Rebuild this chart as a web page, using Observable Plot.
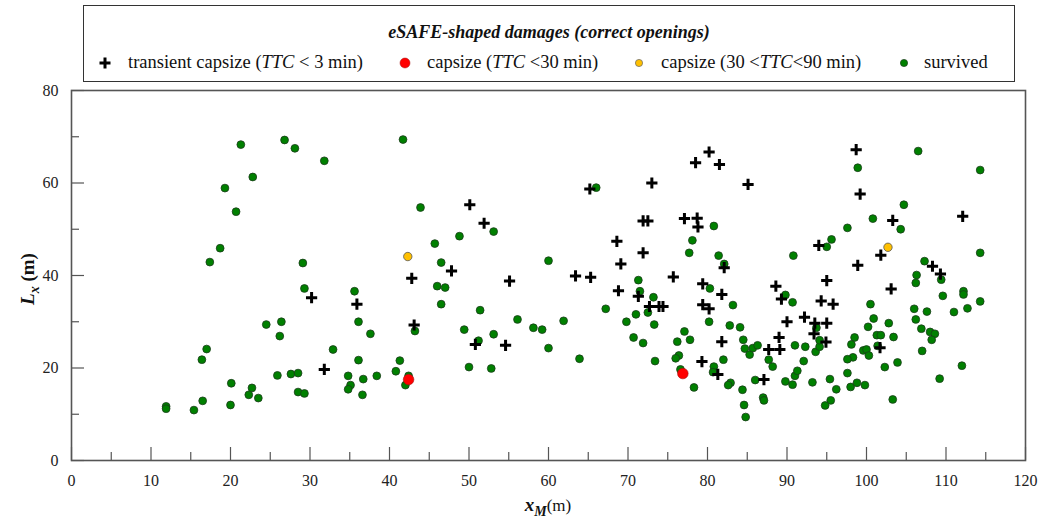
<!DOCTYPE html>
<html>
<head>
<meta charset="utf-8">
<script src="https://cdn.jsdelivr.net/npm/d3@7"></script>
<script src="https://cdn.jsdelivr.net/npm/@observablehq/plot@0.6"></script>
<style>
  body { margin: 0; background: white; }
  #wrap { position: relative; width: 1041px; height: 517px; font-family: "Liberation Serif", "Times New Roman", serif; color: #111; }
  #legend { position: relative; width: 1041px; height: 84px; }
  #legend .box { position: absolute; left: 83px; top: 5px; width: 932px; height: 77px; border: 1.5px solid #333; box-sizing: border-box; }
  #legend .title { position: absolute; left: 83px; width: 932px; top: 22px; text-align: center; font-weight: bold; font-style: italic; font-size: 18px; }
  #legend .item { position: absolute; top: 52px; font-size: 18.5px; white-space: nowrap; }
  #legend svg.mk { position: absolute; top: 56px; }
  #chart svg { overflow: visible; display: block; }
</style>
</head>
<body>
<div id="wrap">
  <div id="legend"></div>
  <div id="chart"></div>
</div>
<script>
// ---- data ----
const xTicks = [0, 10, 20, 30, 40, 50, 60, 70, 80, 90, 100, 110, 120];
const xMinorTicks = [5, 15, 25, 35, 45, 55, 65, 75, 85, 95, 105, 115];
const yTicks = [0, 20, 40, 60, 80];
const yMinorTicks = [10, 30, 50, 70];

const seriesNames = ["transient capsize", "capsize (TTC <30 min)", "capsize (30 <TTC<90 min)", "survived"];

const transientX = [30.2, 35.9, 31.8, 42.8, 43.1, 47.8, 50.1, 51.9, 50.8, 54.6, 55.1, 63.4, 65.3, 65.2, 68.6, 69.1, 68.8, 71.3, 71.9, 71.9, 72.5, 73.0, 72.7, 73.9, 74.4, 75.7, 77.1, 78.7, 78.8, 78.5, 80.2, 81.5, 85.1, 79.4, 81.8, 82.1, 79.4, 80.2, 81.8, 79.3, 81.3, 87.7, 89.1, 89.0, 90.0, 88.6, 89.3, 87.1, 93.5, 95.0, 93.4, 94.9, 92.2, 94.3, 95.8, 95.0, 94.0, 98.9, 98.7, 99.2, 101.8, 103.3, 103.1, 101.7, 108.3, 109.3, 112.1];
const transientY = [35.2, 33.8, 19.7, 39.4, 29.3, 41.0, 55.3, 51.3, 25.1, 24.9, 38.8, 39.9, 39.6, 58.7, 47.4, 42.5, 36.7, 35.5, 44.9, 51.8, 51.8, 60.0, 33.3, 33.3, 33.3, 39.7, 52.3, 52.4, 50.5, 64.4, 66.7, 64.0, 59.7, 38.2, 35.9, 41.7, 33.7, 32.8, 25.7, 21.4, 18.6, 24.0, 24.0, 26.6, 30.0, 37.7, 34.9, 17.5, 29.7, 29.7, 27.4, 25.6, 31.0, 34.5, 33.8, 38.9, 46.5, 42.2, 67.2, 57.6, 44.4, 51.9, 37.1, 24.4, 42.0, 40.3, 52.8];

const capsize30X = [42.4, 76.9];
const capsize30Y = [17.5, 18.8];

const capsize90X = [42.3, 102.7];
const capsize90Y = [44.1, 46.1];

const survivedX = [21.3, 26.8, 28.1, 22.8, 19.3, 20.7, 18.7, 17.4, 29.1, 29.3, 24.5, 26.4, 26.2, 17.0, 16.4, 20.1, 16.5, 11.9, 11.9, 15.4, 20.0, 22.3, 22.7, 23.5, 25.9, 27.6, 28.5, 28.5, 29.3,
  41.7, 31.8, 43.9, 53.1, 48.8, 45.7, 46.5, 60.0, 35.6, 36.1, 37.6, 32.9, 36.1, 34.8, 36.7, 38.4, 35.1, 34.8, 36.6, 41.3, 40.8, 42.4, 42.0, 46.0, 47.0, 46.5, 43.2, 51.4, 49.4, 56.1, 58.1, 59.2, 53.1, 51.2, 60.0, 50.0, 52.8,
  66.0, 80.8, 78.1, 77.7, 81.4, 82.1, 71.3, 80.3, 71.5, 73.2, 67.2, 71.0, 72.5, 69.8, 73.3, 61.9, 63.9, 70.7, 71.9, 73.4, 80.2, 83.2, 82.8, 84.1, 77.1, 76.2, 77.8, 76.4, 76.0, 82.0, 76.6, 80.8, 80.7, 78.3, 82.9, 82.6, 84.4, 84.6, 84.8, 84.5, 84.7, 85.3, 85.7, 86.3, 87.7, 88.2, 89.8, 86.0, 87.0, 87.1, 89.8,
  98.9, 106.5, 114.3, 104.7, 100.8, 104.3, 97.6, 95.6, 95.0, 90.8, 114.3, 107.3, 106.3, 106.2, 109.4, 109.6, 112.2, 112.2, 114.3, 112.7, 111.0, 106.0, 107.6, 106.2, 106.9, 108.0, 108.6, 108.2, 107.0, 112.0, 109.2,
  100.5, 100.9, 102.8, 100.2, 101.3, 101.8, 103.4, 101.4, 98.5, 98.1, 99.6, 100.0, 100.3, 98.3, 97.6, 103.9, 102.3, 97.6, 95.4, 96.2, 98.0, 98.8, 99.8, 95.5, 94.8, 103.3, 93.2, 90.7, 91.0, 91.3, 92.1, 91.0, 92.3, 93.6, 94.1, 94.1, 93.7, 90.7];
const survivedY = [68.3, 69.3, 67.5, 61.3, 58.9, 53.8, 45.9, 42.9, 42.7, 37.2, 29.4, 30.0, 26.9, 24.1, 21.8, 16.7, 12.9, 11.7, 11.2, 10.9, 12.0, 14.2, 15.7, 13.5, 18.4, 18.7, 18.9, 14.8, 14.5,
  69.4, 64.8, 54.7, 49.5, 48.5, 46.9, 42.8, 43.2, 36.6, 30.0, 27.4, 24.0, 21.7, 18.3, 17.6, 18.3, 16.3, 15.4, 14.2, 21.6, 19.3, 18.3, 16.3, 37.7, 37.4, 33.8, 28.0, 32.5, 28.3, 30.5, 28.7, 28.3, 27.3, 25.9, 24.3, 20.2, 19.9,
  59.0, 50.7, 47.6, 44.9, 44.3, 42.5, 39.0, 37.2, 36.6, 35.3, 32.8, 31.6, 32.0, 30.0, 29.4, 30.2, 22.0, 26.6, 25.4, 21.5, 30.0, 33.6, 29.2, 28.8, 27.9, 25.7, 26.1, 22.7, 22.1, 21.8, 19.7, 20.3, 19.1, 15.8, 16.8, 16.3, 15.3, 12.0, 9.4, 26.1, 24.2, 22.9, 24.3, 24.9, 21.8, 20.3, 35.8, 17.4, 13.6, 13.0, 17.1,
  63.3, 66.9, 62.8, 55.3, 52.3, 50.0, 50.3, 47.8, 46.2, 44.3, 44.9, 43.1, 40.1, 38.4, 39.1, 35.6, 36.6, 35.9, 34.4, 32.9, 32.1, 32.8, 32.2, 30.5, 28.5, 27.8, 27.4, 26.1, 23.7, 20.5, 17.7,
  33.8, 30.7, 29.7, 28.9, 27.1, 27.1, 26.7, 24.8, 26.6, 25.1, 23.8, 24.0, 22.7, 22.3, 21.9, 21.2, 20.2, 18.9, 17.6, 15.4, 15.9, 16.8, 16.3, 13.0, 11.9, 13.2, 16.9, 16.4, 18.3, 19.4, 21.5, 24.9, 24.6, 23.5, 24.6, 26.0, 28.7, 34.2];

const colors = { transient: "#000000", capsize30: "#ff0000", capsize90: "#ffc000", survived: "#008000" };

// ---- tables built from the arrays ----
const toRows = (xs, ys) => xs.map((x, i) => ({ x, y: ys[i] }));
const transient = toRows(transientX, transientY);
const capsize30 = toRows(capsize30X, capsize30Y);
const capsize90 = toRows(capsize90X, capsize90Y);
const survived = toRows(survivedX, survivedY);

// ---- legend (HTML above the SVG) ----
const legend = document.getElementById("legend");
legend.innerHTML = `
  <div class="box"></div>
  <div class="title">eSAFE-shaped damages (correct openings)</div>
  <svg class="mk" style="left:98px" width="14" height="14"><path d="M7,1.5V12.5M1.5,7H12.5" stroke="${colors.transient}" stroke-width="3"/></svg>
  <div class="item" style="left:128px">transient capsize (<i>TTC</i> &lt; 3 min)</div>
  <svg class="mk" style="left:398px" width="14" height="14"><circle cx="7" cy="7" r="5" fill="${colors.capsize30}" stroke="#a01010" stroke-width="0.5"/></svg>
  <div class="item" style="left:427px">capsize (<i>TTC</i> &lt;30 min)</div>
  <svg class="mk" style="left:632px" width="14" height="14"><circle cx="7" cy="7" r="3.6" fill="${colors.capsize90}" stroke="#666" stroke-width="0.7"/></svg>
  <div class="item" style="left:661px">capsize (30 &lt;<i>TTC</i>&lt;90 min)</div>
  <svg class="mk" style="left:897px" width="14" height="14"><circle cx="7" cy="7" r="3.6" fill="${colors.survived}" stroke="#1b3b1b" stroke-width="0.7"/></svg>
  <div class="item" style="left:924px">survived</div>
`;

// ---- chart ----
const W = 1041, H = 433, mL = 71, mR = 16, mT = 6, mB = 57;
const innerW = W - mL - mR, innerH = H - mT - mB;
const axisColor = "#555";

const plot = Plot.plot({
  width: W, height: H,
  marginLeft: mL, marginRight: mR, marginTop: mT, marginBottom: mB,
  style: { fontFamily: "'Liberation Serif', 'Times New Roman', serif", fontSize: "16px", color: "#222", background: "white", overflow: "visible" },
  x: { domain: [0, 120], ticks: xTicks, tickSize: 0, tickPadding: 14, label: null },
  y: { domain: [0, 80], ticks: yTicks, tickSize: 0, tickPadding: 13, label: null },
  marks: [
    Plot.tickX(xMinorTicks, { x: d => d, insetTop: innerH - 8, stroke: axisColor, strokeWidth: 1.2 }),
    Plot.tickX(xTicks, { x: d => d, insetTop: innerH - 13, stroke: axisColor, strokeWidth: 1.2 }),
    Plot.tickY(yMinorTicks, { y: d => d, insetRight: innerW - 8, stroke: axisColor, strokeWidth: 1.2 }),
    Plot.tickY(yTicks, { y: d => d, insetRight: innerW - 13, stroke: axisColor, strokeWidth: 1.2 }),
    Plot.frame({ stroke: axisColor, strokeWidth: 1.6 }),
    Plot.dot(survived, { x: "x", y: "y", r: 3.9, fill: colors.survived, stroke: "#1b3b1b", strokeWidth: 0.8 }),
    Plot.dot(transient, { x: "x", y: "y", symbol: "plus", r: 3.7, stroke: colors.transient, strokeWidth: 3 }),
    Plot.dot(capsize90, { x: "x", y: "y", r: 4.2, fill: colors.capsize90, stroke: "#555", strokeWidth: 0.8 }),
    Plot.dot(capsize30, { x: "x", y: "y", r: 5.3, fill: colors.capsize30, stroke: "#a01010", strokeWidth: 0.6 })
  ]
});
document.getElementById("chart").appendChild(plot);

// ---- axis titles with sub-scripts ----
const svg = d3.select(plot);
const yl = svg.append("text")
  .attr("transform", `translate(34,${(mT + innerH / 2 + 4)}) rotate(-90)`)
  .attr("text-anchor", "middle")
  .attr("font-family", "'Liberation Serif', 'Times New Roman', serif")
  .attr("font-size", 19).attr("font-weight", "bold").attr("fill", "#111");
yl.append("tspan").attr("font-style", "italic").text("L");
yl.append("tspan").attr("font-style", "italic").attr("font-size", 14).attr("dy", 5).text("x");
yl.append("tspan").attr("dy", -5).text(" (m)");

const xl = svg.append("text")
  .attr("x", 548).attr("y", H - 6)
  .attr("text-anchor", "middle")
  .attr("font-family", "'Liberation Serif', 'Times New Roman', serif")
  .attr("font-size", 19).attr("fill", "#111");
xl.append("tspan").attr("font-style", "italic").attr("font-weight", "bold").text("x");
xl.append("tspan").attr("font-style", "italic").attr("font-weight", "bold").attr("font-size", 14).attr("dy", 5).text("M");
xl.append("tspan").attr("dy", -5).attr("font-size", 17).text("(m)");
</script>
</body>
</html>
